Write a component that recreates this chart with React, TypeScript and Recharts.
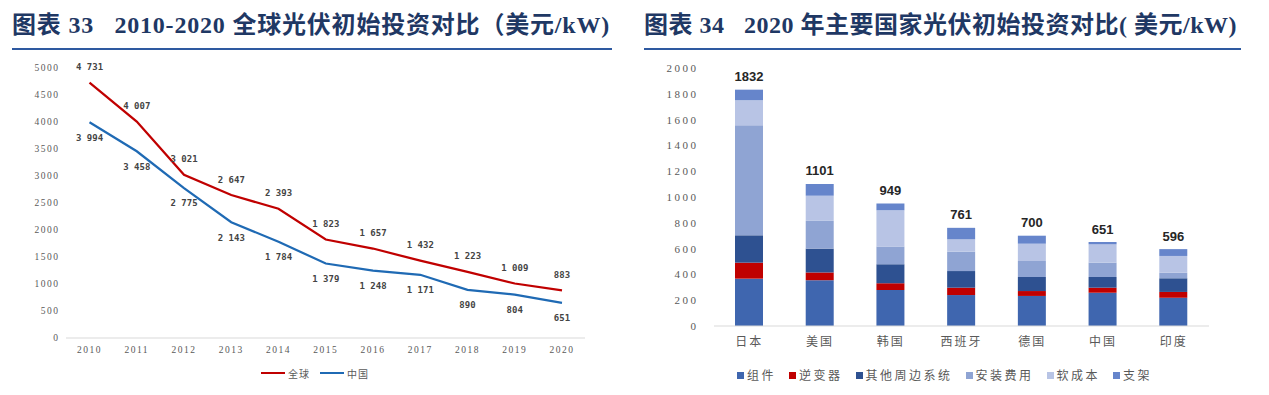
import { Bar, BarChart, LabelList, Line, LineChart, XAxis, YAxis } from 'recharts'

// 图表33: 2010-2020 全球 / 中国 光伏初始投资 (美元/kW)
const years = ['2010', '2011', '2012', '2013', '2014', '2015', '2016', '2017', '2018', '2019', '2020']
const globalCost = [4731, 4007, 3021, 2647, 2393, 1823, 1657, 1432, 1223, 1009, 883]
const chinaCost = [3994, 3458, 2775, 2143, 1784, 1379, 1248, 1171, 890, 804, 651]
const lineTicks = [0, 500, 1000, 1500, 2000, 2500, 3000, 3500, 4000, 4500, 5000]

// 图表34: 2020 年主要国家光伏初始投资构成
const countries = ['日本', '美国', '韩国', '西班牙', '德国', '中国', '印度']
const modules = [367, 355, 280, 240, 233, 258, 219]
const inverters = [124, 60, 52, 57, 38, 39, 45]
const otherBos = [212, 185, 147, 129, 109, 83, 106]
const installCost = [853, 215, 137, 150, 124, 111, 43]
const softCost = [194, 195, 282, 96, 134, 142, 130]
const racking = [82, 91, 51, 89, 62, 18, 53]
const totals = [1832, 1101, 949, 761, 700, 651, 596]
const barTicks = [0, 200, 400, 600, 800, 1000, 1200, 1400, 1600, 1800, 2000]

const lineData = years.map((year, i) => ({ year, global: globalCost[i], china: chinaCost[i] }))

const barData = countries.map((country, i) => ({
  country,
  modules: modules[i],
  inverters: inverters[i],
  otherBos: otherBos[i],
  installCost: installCost[i],
  softCost: softCost[i],
  racking: racking[i],
  total: totals[i]
}))

const barSeries = [
  { key: 'modules', name: '组件', color: '#3F66AF' },
  { key: 'inverters', name: '逆变器', color: '#C00000' },
  { key: 'otherBos', name: '其他周边系统', color: '#2E5191' },
  { key: 'installCost', name: '安装费用', color: '#8FA4D3' },
  { key: 'softCost', name: '软成本', color: '#B8C4E5' },
  { key: 'racking', name: '支架', color: '#6685CB' }
]

const RED = '#C00000'
const BLUE = '#1F6AB4'
const TITLE_FONT = '"Liberation Serif", "Noto Sans CJK SC", serif'
const TICK_FONT = '"Liberation Serif", "Noto Sans CJK SC", serif'
const CJK_FONT = '"Liberation Serif", "Noto Sans CJK SC", sans-serif'

// thousands separated by a space, as in the source ("4 731")
const fmt = (v: number) =>
  v >= 1000 ? `${Math.floor(v / 1000)} ${String(v % 1000).padStart(3, '0')}` : `${v}`

function PointLabel(props: any) {
  const { x, y, value, offset } = props
  if (x == null || y == null) return null
  return (
    <text
      x={x}
      y={y + offset}
      textAnchor="middle"
      dominantBaseline="central"
      fontFamily='"DejaVu Sans Mono", monospace'
      fontSize={9}
      fontWeight="bold"
      fill="#444"
    >
      {fmt(value)}
    </text>
  )
}

function TotalLabel(props: any) {
  const { x, y, width, index } = props
  if (x == null || y == null) return null
  return (
    <text
      x={x + width / 2}
      y={y - 13}
      textAnchor="middle"
      dominantBaseline="central"
      fontFamily='"Liberation Sans", Arial, sans-serif'
      fontSize={13}
      fontWeight="bold"
      fill="#262626"
    >
      {totals[index]}
    </text>
  )
}

function Title({ left, width, text, spacing }: { left: number; width: number; text: string; spacing: number }) {
  return (
    <>
      <div
        style={{
          position: 'absolute',
          left,
          top: 11,
          height: 28,
          lineHeight: '28px',
          fontFamily: TITLE_FONT,
          fontSize: 24,
          fontWeight: 'bold',
          letterSpacing: spacing,
          color: '#1F3864',
          whiteSpace: 'pre'
        }}
      >
        {text}
      </div>
      <div style={{ position: 'absolute', left, top: 48, width, height: 2, background: '#2E59A0' }} />
    </>
  )
}

export default function App() {
  return (
    <div style={{ position: 'relative', width: 1269, height: 395, background: '#fff', overflow: 'hidden' }}>
      <style>{'body { margin: 0; }'}</style>

      <Title left={12} width={600} spacing={0.8} text={'图表 33   2010-2020 全球光伏初始投资对比（美元/kW)'} />
      <Title left={644} width={597} spacing={0.5} text={'图表 34   2020 年主要国家光伏初始投资对比( 美元/kW)'} />

      <div style={{ position: 'absolute', left: 0, top: 0 }}>
        <LineChart width={640} height={395} data={lineData} margin={{ top: 68, right: 55, bottom: 27, left: 0 }}>
          <XAxis
            dataKey="year"
            scale="point"
            padding={{ left: 23.5, right: 23 }}
            height={30}
            axisLine={{ stroke: '#D9D9D9' }}
            tickLine={false}
            tickSize={0}
            tickMargin={8}
            tick={{ fontFamily: TICK_FONT, fontSize: 9.5, fill: '#595959', letterSpacing: 1.5 }}
          />
          <YAxis
            width={66}
            domain={[0, 5000]}
            ticks={lineTicks}
            axisLine={false}
            tickLine={false}
            tickSize={0}
            tickMargin={6.5}
            tick={{ fontFamily: TICK_FONT, fontSize: 9.5, fill: '#595959', letterSpacing: 1.5 }}
          />
          <Line dataKey="global" name="全球" stroke={RED} strokeWidth={2.25} dot={false} isAnimationActive={false}>
            <LabelList dataKey="global" content={(p: any) => <PointLabel {...p} offset={-15.5} />} />
          </Line>
          <Line dataKey="china" name="中国" stroke={BLUE} strokeWidth={2.25} dot={false} isAnimationActive={false}>
            <LabelList dataKey="china" content={(p: any) => <PointLabel {...p} offset={15.3} />} />
          </Line>
        </LineChart>
      </div>

      <div
        style={{
          position: 'absolute',
          left: 261,
          top: 366,
          height: 14,
          display: 'flex',
          alignItems: 'center',
          gap: 10,
          fontFamily: CJK_FONT,
          fontSize: 10,
          letterSpacing: 1,
          color: '#595959'
        }}
      >
        {[
          { name: '全球', color: RED },
          { name: '中国', color: BLUE }
        ].map(item => (
          <div key={item.name} style={{ display: 'flex', alignItems: 'center', gap: 3 }}>
            <span style={{ width: 24, height: 2.5, background: item.color, display: 'inline-block' }} />
            <span>{item.name}</span>
          </div>
        ))}
      </div>

      <div style={{ position: 'absolute', left: 640, top: 0 }}>
        <BarChart width={629} height={395} data={barData} margin={{ top: 68, right: 60, bottom: 39, left: 0 }}>
          <XAxis
            dataKey="country"
            height={30}
            axisLine={{ stroke: '#D9D9D9' }}
            tickLine={false}
            tickSize={0}
            tickMargin={11}
            tick={{ fontFamily: CJK_FONT, fontSize: 12, fill: '#595959', letterSpacing: 2 }}
          />
          <YAxis
            width={74}
            domain={[0, 2000]}
            ticks={barTicks}
            axisLine={false}
            tickLine={false}
            tickSize={0}
            tickMargin={15.5}
            tick={{ fontFamily: TICK_FONT, fontSize: 11, fill: '#595959', letterSpacing: 2.5 }}
          />
          {barSeries.map((s, i) => (
            <Bar
              key={s.key}
              dataKey={s.key}
              name={s.name}
              stackId="cost"
              fill={s.color}
              barSize={28}
              isAnimationActive={false}
            >
              {i === barSeries.length - 1 && <LabelList dataKey="total" content={(p: any) => <TotalLabel {...p} />} />}
            </Bar>
          ))}
        </BarChart>
      </div>

      <div
        style={{
          position: 'absolute',
          left: 737,
          top: 368,
          height: 14,
          display: 'flex',
          alignItems: 'center',
          gap: 13,
          fontFamily: CJK_FONT,
          fontSize: 12,
          letterSpacing: 2.5,
          color: '#595959'
        }}
      >
        {barSeries.map(s => (
          <div key={s.key} style={{ display: 'flex', alignItems: 'center', gap: 3 }}>
            <span style={{ width: 7, height: 7, background: s.color, display: 'inline-block' }} />
            <span>{s.name}</span>
          </div>
        ))}
      </div>
    </div>
  )
}
